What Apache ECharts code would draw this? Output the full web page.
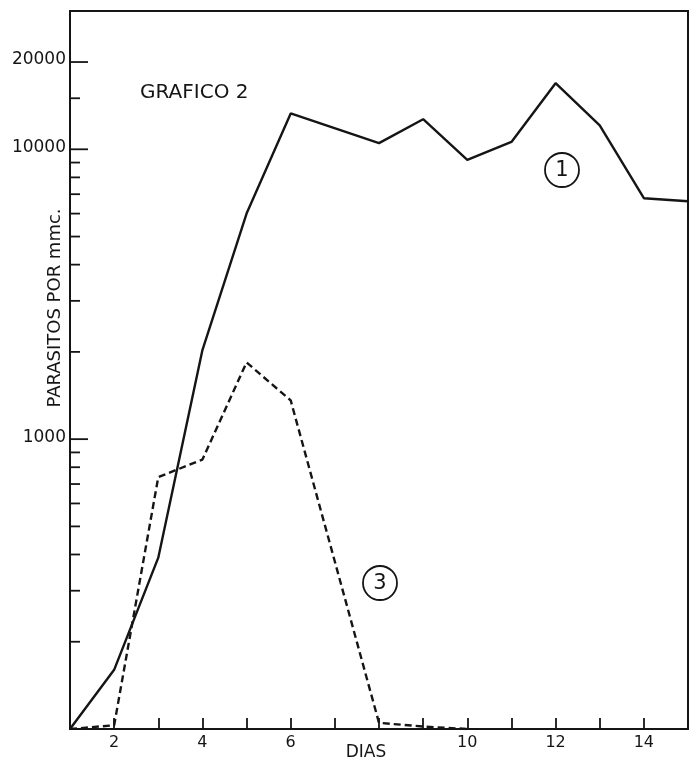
<!DOCTYPE html>
<html>
<head>
<meta charset="utf-8">
<script src="https://cdn.jsdelivr.net/npm/echarts@6/dist/echarts.min.js"></script>
<style>
  html, body { margin: 0; padding: 0; background: #fff; }
  #chart { width: 692px; height: 763px; }
</style>
</head>
<body>
<div id="chart"></div>
<script>
// curve 1 (solid) - only the vertices of the drawn polyline
const days1 = [1, 2, 3, 4, 5, 6, 8, 9, 10, 11, 12, 13, 14, 15]
const curve1 = [100, 160, 390, 2030, 6000, 13300, 10500, 12700, 9200, 10600, 16900, 12100, 6780, 6620]

// curve 3 (dashed)
const days3 = [1, 2, 3, 4, 5, 6, 8, 9, 10]
const curve3 = [100, 103, 740, 850, 1840, 1360, 105, 102, 100]

// x labels (8 is left out, DIAS sits there)
const xTickLabels = [2, 4, 6, 10, 12, 14]

// y axis ticks (log paper)
const yMajorTicks = [1000, 10000, 20000]
const yMajorLabels = ['1000', '10000', '20000']
const yMinorTicks = [200, 300, 400, 500, 600, 700, 800, 900,
  2000, 3000, 4000, 5000, 6000, 7000, 8000, 9000, 15000]

const xMin = 1
const xMax = 15

const ink = '#151515'
const font = '"DejaVu Sans", "Liberation Sans", sans-serif'

function tickSeries(values, len, labels) {
  return {
    type: 'custom',
    silent: true,
    data: values.map(v => [xMin, v]),
    renderItem: function (params, api) {
      let p = api.coord([api.value(0), api.value(1)])
      let children = [{
        type: 'line',
        shape: { x1: p[0], y1: p[1], x2: p[0] + len, y2: p[1] },
        style: { stroke: ink, lineWidth: 1.8 }
      }]
      if (labels) {
        children.push({
          type: 'text',
          style: {
            text: labels[params.dataIndex],
            x: p[0] - 4,
            y: p[1] - 2,
            textAlign: 'right',
            textVerticalAlign: 'middle',
            font: '17px ' + font,
            fill: ink
          }
        })
      }
      return { type: 'group', children: children }
    }
  }
}

function circled(txt, cx, cy) {
  return {
    type: 'group',
    children: [
      { type: 'circle', shape: { cx: cx, cy: cy, r: 17 }, style: { fill: 'none', stroke: ink, lineWidth: 1.8 } },
      { type: 'text', style: { text: txt, x: cx, y: cy + 1, textAlign: 'center', textVerticalAlign: 'middle', font: '21px ' + font, fill: ink } }
    ]
  }
}

let myChart = echarts.init(document.getElementById('chart'))
let option = {
  backgroundColor: '#fff',
  animation: false,
  grid: {
    left: 70,
    right: 4,
    top: 11,
    bottom: 34,
    show: true,
    borderColor: ink,
    borderWidth: 2
  },
  xAxis: {
    type: 'value',
    min: xMin,
    max: xMax,
    interval: 1,
    axisLine: { show: true, lineStyle: { color: ink, width: 2 } },
    axisTick: { show: true, inside: true, length: 11, lineStyle: { color: ink, width: 1.8 } },
    axisLabel: {
      color: ink,
      fontSize: 16,
      fontFamily: font,
      margin: 6,
      formatter: v => xTickLabels.indexOf(v) >= 0 ? String(v) : ''
    },
    splitLine: { show: false }
  },
  yAxis: {
    type: 'log',
    logBase: 10,
    min: 100,
    max: 30000,
    axisLine: { show: true, lineStyle: { color: ink, width: 2 } },
    axisTick: { show: false },
    axisLabel: { show: false },
    splitLine: { show: false },
    minorTick: { show: false }
  },
  series: [
    {
      name: '1',
      type: 'line',
      data: days1.map((d, i) => [d, curve1[i]]),
      symbol: 'none',
      lineStyle: { color: ink, width: 2.4 }
    },
    {
      name: '3',
      type: 'line',
      data: days3.map((d, i) => [d, curve3[i]]),
      symbol: 'none',
      lineStyle: { color: ink, width: 2.4, type: [7, 4] }
    },
    tickSeries(yMajorTicks, 18, yMajorLabels),
    tickSeries(yMinorTicks, 10, null)
  ],
  graphic: [
    {
      type: 'text',
      style: { text: 'GRAFICO 2', x: 140, y: 93, textVerticalAlign: 'middle', font: '20px ' + font, fill: ink }
    },
    {
      type: 'text',
      rotation: Math.PI / 2,
      x: 55,
      y: 308,
      style: { text: 'PARASITOS POR mmc.', x: 0, y: 0, textAlign: 'center', textVerticalAlign: 'middle', font: '18px ' + font, fill: ink }
    },
    {
      type: 'text',
      style: { text: 'DIAS', x: 366, y: 753, textAlign: 'center', textVerticalAlign: 'middle', font: '17px ' + font, fill: ink }
    },
    circled('1', 562, 170),
    circled('3', 380, 583)
  ]
}
myChart.setOption(option)
</script>
</body>
</html>
